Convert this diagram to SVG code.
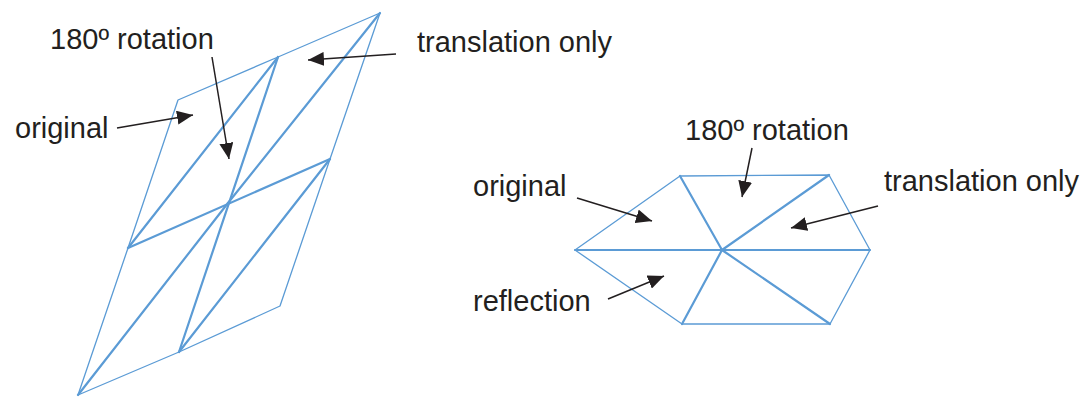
<svg xmlns="http://www.w3.org/2000/svg" width="1084" height="397" viewBox="0 0 1084 397">
<style>
.o{fill:none;stroke:#5b9bd5;stroke-width:1.3;stroke-linejoin:round;stroke-linecap:round}
.i{fill:none;stroke:#5b9bd5;stroke-width:2.2;stroke-linecap:round}
.t{font-family:"Liberation Sans",Arial,sans-serif;font-size:29px;fill:#231f20}
.a{fill:none;stroke:#231f20;stroke-width:1.5;marker-end:url(#ah)}
</style>
<defs>
<marker id="ah" markerUnits="userSpaceOnUse" markerWidth="17" markerHeight="14" refX="16" refY="7" orient="auto">
<path d="M0,0 L16,7 L0,14 z" fill="#231f20"/>
</marker>
</defs>
<rect width="1084" height="397" fill="#fff"/>
<g id="tiling-left">
<polygon class="o" points="178,100 278,57 380,13 330,159 280,306 179,352 78,395 128,248"/>
<line class="i" x1="128" y1="248" x2="330" y2="159"/>
<line class="i" x1="278" y1="57" x2="179" y2="352"/>
<line class="i" x1="128" y1="248" x2="278" y2="57"/>
<line class="i" x1="228" y1="203" x2="380" y2="13"/>
<line class="i" x1="78" y1="395" x2="228" y2="203"/>
<line class="i" x1="179" y1="352" x2="330" y2="159"/>
</g>
<g id="tiling-right">
<polygon class="o" points="575,250 680,176 829,175 870,250 830,324 682,324"/>
<path class="i" d="M722,250 L575,250 M722,250 L870,250 M722,250 L680,176 M722,250 L829,175 M722,250 L830,324 M722,250 L682,324"/>
</g>
<g id="labels">
<text class="t" x="50" y="49">180º rotation</text>
<text class="t" x="417" y="52">translation only</text>
<text class="t" x="15" y="138">original</text>
<text class="t" x="685" y="140">180º rotation</text>
<text class="t" x="473" y="196">original</text>
<text class="t" x="473" y="311">reflection</text>
<text class="t" x="884" y="191">translation only</text>
</g>
<g id="connectors">
<line class="a" x1="212" y1="57" x2="229" y2="159"/>
<line class="a" x1="117" y1="128" x2="193" y2="115"/>
<line class="a" x1="396" y1="54" x2="308" y2="60"/>
<line class="a" x1="752" y1="148" x2="742" y2="197"/>
<line class="a" x1="577" y1="198" x2="652" y2="221"/>
<line class="a" x1="608" y1="299" x2="664" y2="276"/>
<line class="a" x1="878" y1="206" x2="791" y2="228"/>
</g>
</svg>
